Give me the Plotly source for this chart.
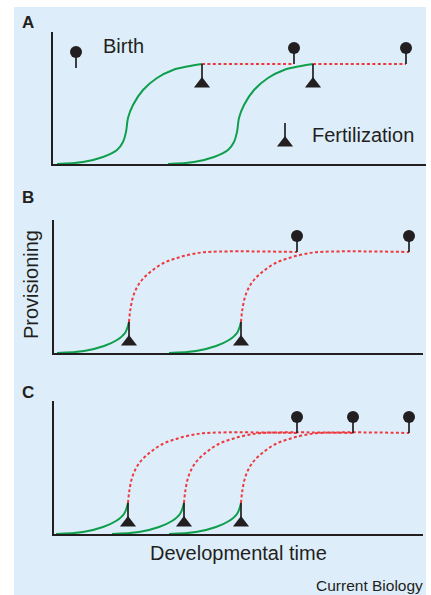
import plotly.graph_objects as go

W, H = 431, 595
GREEN = "#0f9f4c"
RED = "#ee3a3e"
INK = "#231f20"
BG = "#ddeefa"
FONT = "Liberation Sans, Arial, Helvetica, sans-serif"

# ---------------- data (developmental time / provisioning, arbitrary units) ----------------
# Panel A: provisioning before fertilization (time relative to fertilization)
A_pre_t = [-145, -119, -99, -85, -79, -76, -74, -69, -59, -45, -29, -12, 0]
A_pre_v = [0, 2, 7, 14, 22, 32, 46, 59, 74, 86, 94, 98, 100]
A_fertilization = [148, 259]
A_birth = [240, 352]
A_plateau = 100

# Panels B & C: provisioning before and after fertilization (time relative to fertilization)
BC_pre_t = [-72, -45, -25, -12, -4, 0]
BC_pre_v = [0, 2, 7, 13, 20, 31]
BC_post_t = [0, 1.3, 4.6, 11.3, 21.3, 34.6, 48, 61.3, 78]
BC_post_v = [31, 43, 58, 71, 81, 90, 95, 98.5, 101]
B_fertilization = [75, 187]
B_birth = [243, 355]
C_fertilization = [74, 130, 187]
C_birth = [243, 299, 355]
BC_plateau = 101

# ---------------- layout geometry (pixels) ----------------
PANELS = {
    "A": dict(x0=52.7, x1=426, y0=32, y1=164),
    "B": dict(x0=54.3, x1=423, y0=220, y1=353),
    "C": dict(x0=54.3, x1=423, y0=401, y1=534),
}
ORIGIN = 54  # pixel of time zero
BIRTH_STEM = 16
FERT_STEM = 20
TRI_SIZE = 14
DOT_SIZE = 12

fig = go.Figure()
layout_axes = {}
for i, (name, g) in enumerate(PANELS.items()):
    sfx = "" if i == 0 else str(i + 1)
    layout_axes["xaxis" + sfx] = dict(
        domain=[g["x0"] / W, g["x1"] / W], range=[g["x0"] - ORIGIN, g["x1"] - ORIGIN],
        anchor="y" + sfx, showline=True, linewidth=2, linecolor=INK,
        showgrid=False, zeroline=False, showticklabels=False, ticks="", fixedrange=True)
    layout_axes["yaxis" + sfx] = dict(
        domain=[1 - g["y1"] / H, 1 - g["y0"] / H], range=[0, g["y1"] - g["y0"]],
        anchor="x" + sfx, showline=True, linewidth=2, linecolor=INK,
        showgrid=False, zeroline=False, showticklabels=False, ticks="", fixedrange=True)


def line(xs, ys, color, xa, ya, dash=None, width=2, shape="spline"):
    fig.add_trace(go.Scatter(
        x=xs, y=ys, mode="lines", xaxis=xa, yaxis=ya, hoverinfo="skip",
        line=dict(color=color, width=width, dash=dash, shape=shape, smoothing=1)))


def births(xs, plateau, xa, ya):
    sx, sy = [], []
    for b in xs:
        sx += [b, b, None]
        sy += [plateau, plateau + BIRTH_STEM, None]
    line(sx, sy, INK, xa, ya, width=1.7, shape="linear")
    fig.add_trace(go.Scatter(
        x=xs, y=[plateau + BIRTH_STEM] * len(xs), mode="markers", xaxis=xa, yaxis=ya,
        cliponaxis=False, hoverinfo="skip",
        marker=dict(symbol="circle", size=DOT_SIZE, color=INK, line=dict(width=0))))


def fertilizations(xs, level, xa, ya):
    sx, sy = [], []
    for f in xs:
        sx += [f, f, None]
        sy += [level, level - FERT_STEM, None]
    line(sx, sy, INK, xa, ya, width=1.7, shape="linear")
    fig.add_trace(go.Scatter(
        x=xs, y=[level - FERT_STEM] * len(xs), mode="markers", xaxis=xa, yaxis=ya,
        cliponaxis=False, hoverinfo="skip",
        marker=dict(symbol="triangle-up", size=TRI_SIZE, color=INK, line=dict(width=0))))


DOTTED = "3px,2.4px"

# ---- Panel A ----
for f, b in zip(A_fertilization, A_birth):
    line([f + t for t in A_pre_t], A_pre_v, GREEN, "x", "y")
    line([f, b], [A_plateau, A_plateau], RED, "x", "y", dash=DOTTED, shape="linear")
births(A_birth, A_plateau, "x", "y")
fertilizations(A_fertilization, A_plateau, "x", "y")
# legend icons
births([22], 112 - BIRTH_STEM, "x", "y")
fertilizations([231], 41, "x", "y")

# ---- Panels B and C ----
for (fert, birth, xa, ya) in [(B_fertilization, B_birth, "x2", "y2"),
                              (C_fertilization, C_birth, "x3", "y3")]:
    for f, b in zip(fert, birth):
        line([f + t for t in BC_pre_t], BC_pre_v, GREEN, xa, ya)
        line([f + t for t in BC_post_t] + [b], BC_post_v + [BC_plateau], RED, xa, ya, dash=DOTTED)
    births(birth, BC_plateau, xa, ya)
    fertilizations(fert, BC_pre_v[-1], xa, ya)


def text(s, px, py, size=20, xanchor="left", angle=0):
    fig.add_annotation(text=s, x=px / W, y=1 - py / H, xref="paper", yref="paper",
                       xanchor=xanchor, yanchor="middle", showarrow=False, textangle=angle,
                       font=dict(family=FONT, size=size, color=INK), borderpad=0)


text("<b>A</b>", 21, 23, size=17)
text("<b>B</b>", 21, 197.5, size=17)
text("<b>C</b>", 21, 392.5, size=17)
text("Birth", 102, 46)
text("Fertilization", 311, 135)
text("Provisioning", 31, 285, xanchor="center", angle=-90)
text("Developmental time", 238.5, 553, xanchor="center")
text("Current Biology", 424, 585, size=15.5, xanchor="right")

fig.add_shape(type="rect", xref="paper", yref="paper", x0=14 / W, x1=426 / W,
              y0=0, y1=1 - 7 / H, fillcolor=BG, line=dict(width=0), layer="below")

fig.update_layout(
    width=W, height=H, margin=dict(l=0, r=0, t=0, b=0),
    paper_bgcolor="white", plot_bgcolor="rgba(0,0,0,0)",
    showlegend=False, font=dict(family=FONT, color=INK),
    **layout_axes)

fig.write_html("out.html", config={"displayModeBar": False, "staticPlot": True},
               post_script="document.body.style.margin='0';document.body.style.padding='0';"
                           "document.body.style.overflow='hidden';")
